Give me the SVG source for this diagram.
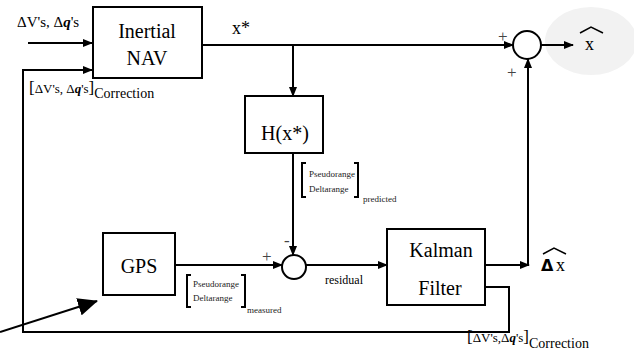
<svg xmlns="http://www.w3.org/2000/svg" width="634" height="360" viewBox="0 0 634 360">
<defs>
<marker id="ah" markerWidth="10" markerHeight="8" refX="9" refY="4" orient="auto" markerUnits="userSpaceOnUse">
<path d="M0,0 L10,4 L0,8 z" fill="#000"/>
</marker>
<marker id="big" markerWidth="20" markerHeight="18" refX="19" refY="9" orient="auto" markerUnits="userSpaceOnUse">
<path d="M0,0 L20,9 L0,18 z" fill="#000"/>
</marker>
<style>
.box{fill:#fff;stroke:#000;stroke-width:2}
.ln{fill:none;stroke:#000;stroke-width:2}
.br{fill:none;stroke:#000;stroke-width:2}
.t{font-family:"Liberation Serif","Times New Roman",serif;fill:#000}
.big{font-size:20px;text-anchor:middle}
.sm{font-size:9px;fill:#222}
.pl{font-size:17px;fill:#444}
</style>
</defs>
<ellipse cx="591" cy="41" rx="46" ry="34" fill="#f2f2f2"/>
<g id="connectors">
<line class="ln" x1="28" y1="43" x2="92" y2="43" marker-end="url(#ah)"/>
<polyline class="ln" points="485,287 509,287 509,332 23,332 23,70 92,70" marker-end="url(#ah)"/>
<line class="ln" x1="202" y1="45" x2="513" y2="45" marker-end="url(#ah)"/>
<line class="ln" x1="293" y1="45" x2="293" y2="96" marker-end="url(#ah)"/>
<line class="ln" x1="293" y1="153" x2="293" y2="255" marker-end="url(#ah)"/>
<line class="ln" x1="175" y1="265" x2="282" y2="265" marker-end="url(#ah)"/>
<line class="ln" x1="306" y1="265" x2="387" y2="265" marker-end="url(#ah)"/>
<line class="ln" x1="485" y1="265" x2="529" y2="265" marker-end="url(#ah)"/>
<line class="ln" x1="528" y1="265" x2="528" y2="59" marker-end="url(#ah)"/>
<line class="ln" x1="541" y1="45" x2="573" y2="45" marker-end="url(#ah)"/>
<line class="ln" x1="0" y1="332" x2="97" y2="301" stroke-width="2.5" marker-end="url(#big)"/>
</g>
<g id="inertial-nav">
<rect class="box" x="93" y="7" width="109" height="71"/>
<text class="t big" x="147" y="38">Inertial</text>
<text class="t big" x="147" y="65">NAV</text>
</g>
<g id="h-box">
<rect class="box" x="245" y="96" width="78" height="57"/>
<text class="t big" x="285" y="140">H(x*)</text>
</g>
<g id="gps">
<rect class="box" x="103" y="233" width="72" height="62"/>
<text class="t big" x="139" y="273">GPS</text>
</g>
<g id="kalman">
<rect class="box" x="387" y="229" width="98" height="76"/>
<text class="t big" x="441" y="257">Kalman</text>
<text class="t big" x="440" y="295">Filter</text>
</g>
<g id="sum1">
<circle cx="527" cy="45" r="14" fill="none" stroke="#000" stroke-width="2"/>
<text class="t pl" x="498" y="42">+</text>
<text class="t pl" x="507" y="78">+</text>
</g>
<g id="sum2">
<circle cx="294" cy="267" r="12" fill="none" stroke="#000" stroke-width="2"/>
<text class="t pl" x="262" y="262">+</text>
<text class="t pl" x="284" y="246">-</text>
</g>
<g id="labels">
<text class="t" x="17" y="27" font-size="15">ΔV's, Δ<tspan font-weight="bold" font-style="italic">q</tspan>'s</text>
<text class="t" x="29" y="93" font-size="13"><tspan font-size="17">[</tspan>ΔV's, Δ<tspan font-weight="bold" font-style="italic">q</tspan>'s<tspan font-size="17">]</tspan><tspan font-size="14" dy="5">Correction</tspan></text>
<text class="t" x="467" y="342" font-size="13"><tspan font-size="17">[</tspan>ΔV's,Δ<tspan font-weight="bold" font-style="italic">q</tspan>'s<tspan font-size="17">]</tspan><tspan font-size="14" dy="6">Correction</tspan></text>
<text class="t" x="232" y="34" font-size="18">x*</text>
<text class="t" x="585" y="50" font-size="18">x</text>
<polyline points="580,33 591,27 603,33" fill="none" stroke="#000" stroke-width="1.5"/>
<text x="541" y="271" font-family="'DejaVu Sans',sans-serif" font-weight="bold" font-size="16">Δ</text>
<text class="t" x="556" y="271" font-size="18">x</text>
<polyline points="543,254 554,248 566,254" fill="none" stroke="#000" stroke-width="1.5"/>
<text class="t" x="325" y="284" font-size="12" fill="#222">residual</text>
<path class="br" d="M306,163 H302 V197 H306 M354,163 H358 V197 H354"/>
<text class="t sm" x="309" y="177">Pseudorange</text>
<text class="t sm" x="309" y="192">Deltarange</text>
<text class="t sm" x="363" y="202" font-size="8">predicted</text>
<path class="br" d="M191,275 H187 V307 H191 M241,275 H245 V307 H241"/>
<text class="t sm" x="193" y="287">Pseudorange</text>
<text class="t sm" x="193" y="301">Deltarange</text>
<text class="t sm" x="247" y="313" font-size="8">measured</text>
</g>
</svg>
